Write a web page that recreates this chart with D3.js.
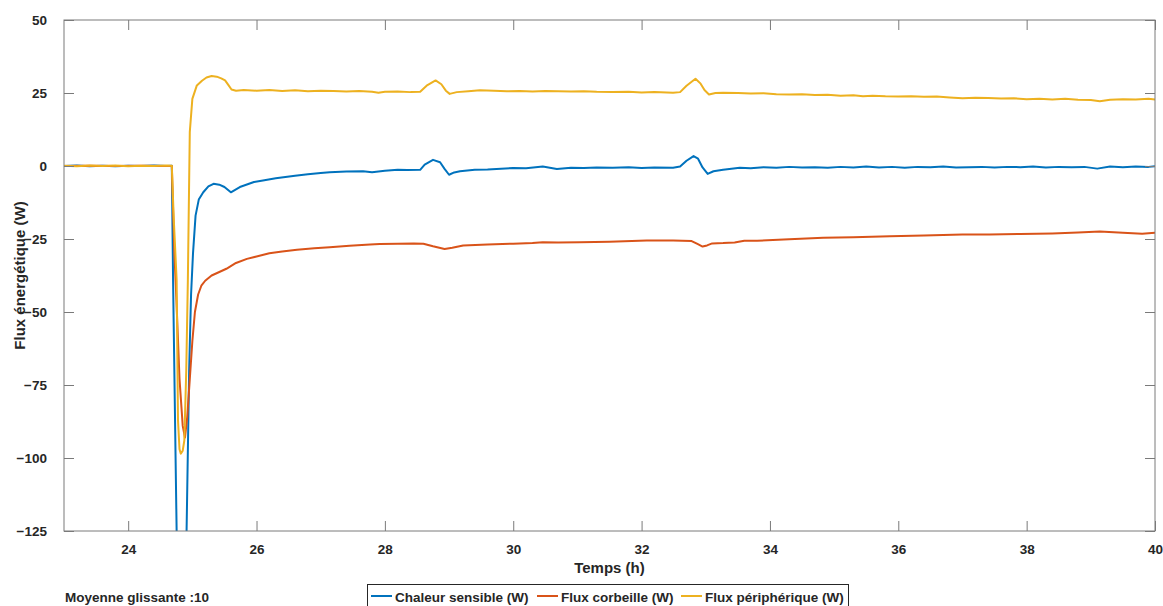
<!DOCTYPE html>
<html>
<head>
<meta charset="utf-8">
<script src="https://cdn.jsdelivr.net/npm/d3@7"></script>
<style>
  html, body { margin: 0; padding: 0; background: #ffffff; }
  svg { display: block; }
  text { font-family: "Liberation Sans", Arial, Helvetica, sans-serif; font-weight: bold; fill: #262626; }
</style>
</head>
<body>
<svg id="chart" width="1163" height="606"></svg>
<script>
// ---- Data (time in hours, flux in W) ----
const seriesNames = ["Chaleur sensible (W)", "Flux corbeille (W)", "Flux périphérique (W)"];
const seriesColors = ["#0072BD", "#D95319", "#EDB120"];
const xTicks = [24, 26, 28, 30, 32, 34, 36, 38, 40];
const yTicks = [50, 25, 0, -25, -50, -75, -100, -125];
const footnote = "Moyenne glissante :10";
const xTitle = "Temps (h)";
const yTitle = "Flux énergétique (W)";

const chaleurSensible = [
  [23.0,0.0],[23.2,0.2],[23.4,-0.1],[23.6,0.1],[23.8,-0.1],[24.0,0.1],[24.2,0.0],[24.4,0.2],[24.6,0.0],[24.68,0.1],
  [24.70,-40],[24.755,-125],[24.79,-170],[24.83,-185],[24.87,-170],[24.91,-125],[24.95,-70],[24.98,-44],
  [25.01,-30],[25.05,-17],[25.1,-11.5],[25.17,-9],[25.25,-7],[25.33,-6.1],[25.42,-6.4],[25.5,-7.2],[25.6,-9.0],
  [25.74,-7.2],[25.96,-5.5],[26.1,-5.0],[26.3,-4.2],[26.6,-3.3],[26.8,-2.8],[27.0,-2.4],[27.14,-2.1],[27.4,-1.9],
  [27.66,-1.8],[27.8,-2.1],[28.0,-1.6],[28.2,-1.3],[28.35,-1.4],[28.55,-1.3],[28.62,0.5],[28.75,2.1],[28.86,1.3],
  [28.93,-1.0],[29.0,-3.0],[29.08,-2.2],[29.17,-1.8],[29.4,-1.3],[29.6,-1.2],[29.74,-1.0],[30.0,-0.7],[30.2,-0.8],
  [30.46,-0.2],[30.68,-1.0],[30.9,-0.6],[31.1,-0.7],[31.3,-0.5],[31.55,-0.6],[31.8,-0.4],[32.0,-0.7],[32.2,-0.5],
  [32.49,-0.6],[32.6,-0.2],[32.7,1.8],[32.81,3.4],[32.88,2.5],[32.95,-0.5],[33.03,-2.7],[33.12,-1.8],[33.27,-1.3],
  [33.53,-0.6],[33.7,-0.8],[33.9,-0.4],[34.1,-0.6],[34.3,-0.3],[34.5,-0.5],[34.7,-0.4],[34.9,-0.6],[35.1,-0.3],
  [35.3,-0.5],[35.5,-0.2],[35.7,-0.5],[35.9,-0.3],[36.1,-0.6],[36.3,-0.3],[36.5,-0.4],[36.7,-0.2],[36.9,-0.5],
  [37.1,-0.4],[37.3,-0.3],[37.5,-0.5],[37.7,-0.3],[37.9,-0.4],[38.1,-0.2],[38.3,-0.5],[38.5,-0.3],[38.7,-0.4],
  [38.9,-0.3],[39.1,-0.9],[39.3,-0.2],[39.5,-0.4],[39.7,-0.2],[39.9,-0.3],[40.0,-0.1]
];

const fluxCorbeille = [
  [23.0,0.0],[23.4,0.1],[23.8,0.0],[24.2,0.1],[24.6,0.0],[24.68,0.0],[24.70,-15],[24.72,-30],[24.75,-45],
  [24.80,-73],[24.85,-89],[24.885,-93],[24.92,-86],[24.96,-73],[25.0,-60],[25.04,-50],[25.09,-44],[25.14,-41],
  [25.2,-39.3],[25.3,-37.5],[25.42,-36.3],[25.53,-35.2],[25.68,-33.2],[25.85,-31.8],[26.0,-31.0],[26.2,-29.9],
  [26.4,-29.3],[26.63,-28.7],[26.9,-28.2],[27.14,-27.8],[27.45,-27.3],[27.77,-26.9],[27.92,-26.7],[28.2,-26.6],
  [28.45,-26.5],[28.6,-26.6],[28.75,-27.5],[28.93,-28.4],[29.05,-28.0],[29.22,-27.2],[29.6,-26.9],[30.0,-26.6],
  [30.3,-26.4],[30.46,-26.1],[30.7,-26.2],[31.04,-26.1],[31.5,-25.9],[32.08,-25.5],[32.49,-25.5],[32.78,-25.7],
  [32.87,-26.7],[32.95,-27.6],[33.02,-27.2],[33.1,-26.5],[33.27,-26.4],[33.45,-26.2],[33.6,-25.6],[33.8,-25.6],
  [34.3,-25.1],[34.83,-24.6],[35.3,-24.4],[35.87,-24.1],[36.4,-23.8],[37.0,-23.5],[37.42,-23.5],[37.9,-23.3],
  [38.4,-23.1],[38.8,-22.8],[39.14,-22.4],[39.5,-22.9],[39.8,-23.2],[40.0,-22.9]
];

const fluxPeripherique = [
  [23.0,0.1],[23.2,-0.1],[23.4,0.2],[23.6,0.0],[23.8,0.2],[24.0,-0.1],[24.2,0.1],[24.4,0.0],[24.6,0.2],[24.68,0.1],
  [24.71,-18],[24.755,-39],[24.776,-87],[24.80,-97],[24.82,-98.5],[24.85,-97.5],[24.875,-94],[24.905,-70],
  [24.93,-39],[24.96,11.6],[25.0,23],[25.07,27.6],[25.15,29.2],[25.22,30.3],[25.3,30.8],[25.38,30.6],[25.45,30.0],
  [25.51,29.3],[25.56,27.8],[25.61,26.2],[25.68,25.8],[25.8,26.0],[26.0,25.8],[26.2,26.0],[26.4,25.7],[26.6,25.9],
  [26.8,25.6],[27.0,25.8],[27.2,25.7],[27.4,25.5],[27.6,25.7],[27.8,25.4],[27.9,25.1],[28.0,25.4],[28.2,25.5],
  [28.4,25.3],[28.55,25.4],[28.65,27.5],[28.79,29.3],[28.88,28.0],[28.95,25.8],[29.01,24.7],[29.12,25.3],
  [29.3,25.6],[29.48,25.9],[29.7,25.8],[29.9,25.6],[30.1,25.7],[30.3,25.5],[30.5,25.7],[30.7,25.6],[30.9,25.5],
  [31.1,25.6],[31.3,25.4],[31.55,25.3],[31.8,25.4],[32.0,25.2],[32.2,25.3],[32.49,25.1],[32.6,25.3],[32.7,27.5],
  [32.84,29.9],[32.92,28.2],[32.98,26.0],[33.05,24.5],[33.15,25.0],[33.27,25.1],[33.5,25.0],[33.7,24.8],
  [33.9,24.9],[34.1,24.6],[34.3,24.5],[34.5,24.6],[34.7,24.3],[34.9,24.4],[35.1,24.1],[35.3,24.2],[35.45,23.9],
  [35.6,24.1],[35.8,23.9],[36.0,23.8],[36.2,23.9],[36.4,23.7],[36.6,23.8],[36.8,23.5],[37.0,23.2],[37.2,23.4],
  [37.4,23.3],[37.6,23.1],[37.8,23.2],[38.0,22.9],[38.2,23.0],[38.4,22.8],[38.6,23.0],[38.8,22.7],[39.0,22.6],
  [39.14,22.2],[39.3,22.7],[39.5,22.9],[39.7,22.8],[39.9,23.0],[40.0,22.8]
];

const seriesData = [chaleurSensible, fluxCorbeille, fluxPeripherique];

// ---- Layout ----
const svg = d3.select("#chart");
const L = 64, R = 1155, T = 20, B = 531;
const x = d3.scaleLinear().domain([23, 40]).range([L, R]);
const y = d3.scaleLinear().domain([-125, 50]).range([B, T]);
const axisColor = "#7a7a7a";

svg.append("defs").append("clipPath").attr("id", "plotclip")
  .append("rect").attr("x", L).attr("y", T).attr("width", R - L).attr("height", B - T);

// Lines
const line = d3.line().x(d => x(d[0])).y(d => y(d[1]));
const gLines = svg.append("g").attr("clip-path", "url(#plotclip)");
seriesData.forEach((s, i) => {
  gLines.append("path").datum(s)
    .attr("d", line)
    .attr("fill", "none")
    .attr("stroke", seriesColors[i])
    .attr("stroke-width", 2)
    .attr("stroke-linejoin", "round");
});

// Axes (ticks inward, mirrored on all sides)
const tickLen = 10;
function styleAxis(g) {
  g.select(".domain").remove();
  g.selectAll(".tick line").attr("stroke", axisColor).attr("stroke-width", 1);
  g.selectAll(".tick text").attr("fill", "#262626")
    .style("font-size", "13.5px").style("font-weight", "bold");
}
svg.append("g").attr("transform", `translate(0,${B})`)
  .call(d3.axisBottom(x).tickValues(xTicks).tickFormat(d3.format("d")).tickSizeInner(-tickLen).tickSizeOuter(0).tickPadding(13))
  .call(styleAxis);
svg.append("g").attr("transform", `translate(0,${T})`)
  .call(d3.axisTop(x).tickValues(xTicks).tickFormat("").tickSizeInner(-tickLen).tickSizeOuter(0))
  .call(styleAxis);
svg.append("g").attr("transform", `translate(${L},0)`)
  .call(d3.axisLeft(y).tickValues(yTicks).tickFormat(d3.format("d")).tickSizeInner(-tickLen).tickSizeOuter(0).tickPadding(17))
  .call(styleAxis);
svg.append("g").attr("transform", `translate(${R},0)`)
  .call(d3.axisRight(y).tickValues(yTicks).tickFormat("").tickSizeInner(-tickLen).tickSizeOuter(0))
  .call(styleAxis);

// Box
svg.append("rect").attr("x", L).attr("y", T).attr("width", R - L).attr("height", B - T)
  .attr("fill", "none").attr("stroke", axisColor).attr("stroke-width", 1);

// Axis titles
svg.append("text").attr("x", (L + R) / 2).attr("y", 573).attr("text-anchor", "middle")
  .style("font-size", "15px").text(xTitle);
svg.append("text").attr("transform", `translate(25,${(T + B) / 2}) rotate(-90)`).attr("text-anchor", "middle")
  .style("font-size", "15px").text(yTitle);

// Footnote
svg.append("text").attr("x", 65).attr("y", 602).style("font-size", "13.5px").text(footnote);

// Legend
const lg = svg.append("g");
lg.append("rect").attr("x", 367.5).attr("y", 584.5).attr("width", 481).attr("height", 24)
  .attr("fill", "#ffffff").attr("stroke", "#262626").attr("stroke-width", 1);
const legendX = [371, 537, 681];
seriesNames.forEach((name, i) => {
  lg.append("line").attr("x1", legendX[i]).attr("x2", legendX[i] + 21)
    .attr("y1", 596).attr("y2", 596)
    .attr("stroke", seriesColors[i]).attr("stroke-width", 2);
  lg.append("text").attr("x", legendX[i] + 24).attr("y", 601.5)
    .style("font-size", "13.5px").text(name);
});
</script>
</body>
</html>
